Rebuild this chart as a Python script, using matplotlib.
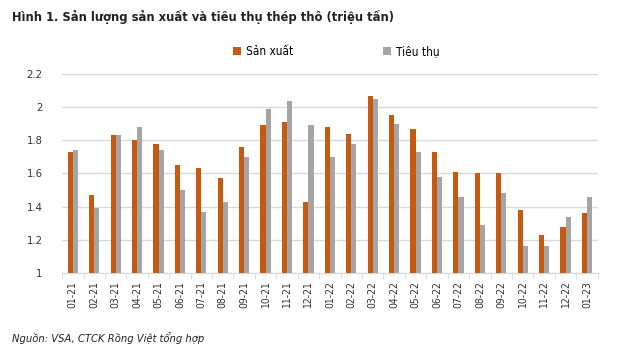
import numpy as np
from matplotlib import pyplot as plt

# thang-nam
months = ["01-21", "02-21", "03-21", "04-21", "05-21", "06-21", "07-21", "08-21",
          "09-21", "10-21", "11-21", "12-21", "01-22", "02-22", "03-22", "04-22",
          "05-22", "06-22", "07-22", "08-22", "09-22", "10-22", "11-22", "12-22",
          "01-23"]
san_xuat = [1.73, 1.47, 1.83, 1.80, 1.78, 1.65, 1.63, 1.57, 1.76, 1.89, 1.91, 1.43,
            1.88, 1.84, 2.07, 1.95, 1.87, 1.73, 1.61, 1.60, 1.60, 1.38, 1.23, 1.28,
            1.36]
tieu_thu = [1.74, 1.39, 1.83, 1.88, 1.74, 1.50, 1.37, 1.43, 1.70, 1.99, 2.04, 1.89,
            1.70, 1.78, 2.05, 1.90, 1.73, 1.58, 1.46, 1.29, 1.48, 1.16, 1.16, 1.34,
            1.46]
y_ticks = [1, 1.2, 1.4, 1.6, 1.8, 2, 2.2]

plt.rcParams['font.family'] = ['DejaVu Sans']
plt.rcParams['font.stretch'] = 'condensed'

fig = plt.figure(figsize=(6.4, 3.49), dpi=100)
ax = fig.add_axes([0.097, 0.218, 0.837, 0.570])

x = np.arange(len(months))
w = 0.24
ax.bar(x - w / 2, san_xuat, w, color='#C55A11', label='Sản xuất', zorder=3)
ax.bar(x + w / 2, tieu_thu, w, color='#A5A5A5', label='Tiêu thụ', zorder=3)

ax.set_ylim(1, 2.2)
ax.set_xlim(-0.5, len(months) - 0.5)
ax.set_yticks(y_ticks)
ax.set_yticklabels([("%g" % v) for v in y_ticks], fontsize=8, color='#333333')
ax.yaxis.grid(True, color='#D9D9D9', linewidth=1, zorder=0)
ax.tick_params(axis='y', length=0, pad=14)

ax.set_xticks(x)
ax.set_xticklabels(months, rotation=90, fontsize=7.5, color='#333333')
ax.set_xticks(np.arange(-0.5, len(months)), minor=True)
ax.tick_params(axis='x', which='major', length=0, pad=6)
ax.tick_params(axis='x', which='minor', length=4, color='#D9D9D9')

for side in ['top', 'right', 'left']:
    ax.spines[side].set_visible(False)
ax.spines['bottom'].set_color('#D9D9D9')

fig.legend(loc='center', bbox_to_anchor=(0.525, 0.853), ncol=2, frameon=False,
           fontsize=8.5, handlelength=0.7, handleheight=0.7, handletextpad=0.4,
           columnspacing=7.6)

fig.text(0.019, 0.95, "Hình 1. Sản lượng sản xuất và tiêu thụ thép thô (triệu tấn)",
         fontsize=9.3, fontweight='bold', color='#222222', va='center')
fig.text(0.019, 0.03, "Nguồn: VSA, CTCK Rồng Việt tổng hợp",
         fontsize=8, style='italic', color='#222222', va='center')

plt.savefig("out.png", dpi=100)
